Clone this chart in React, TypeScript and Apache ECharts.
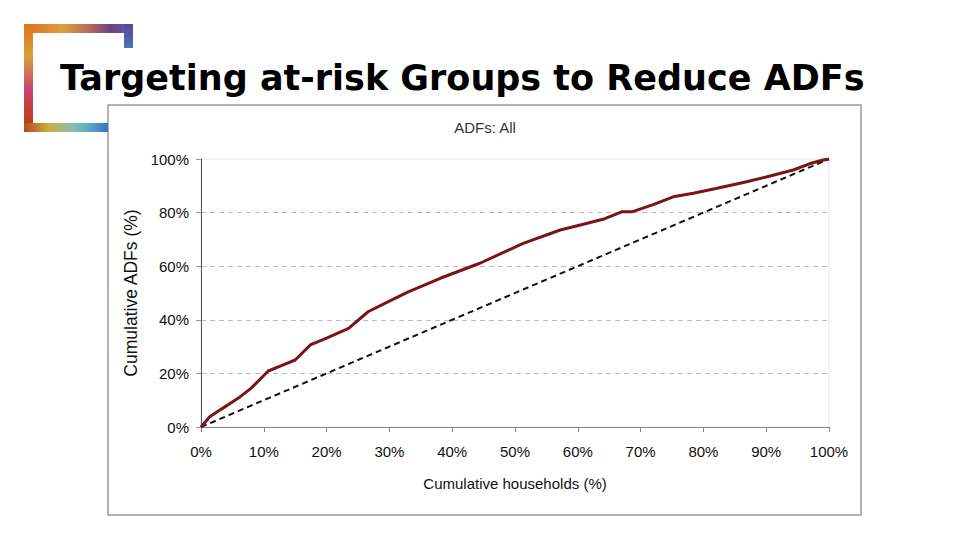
import React, { useEffect, useRef } from "react";
import * as echarts from "echarts";

const titleText = "Targeting at-risk Groups to Reduce ADFs";
const chartTitle = "ADFs: All";
const xName = "Cumulative households (%)";
const yName = "Cumulative ADFs (%)";

const householdsPct = [0, 1.4, 3, 5.9, 8, 10.7, 13, 15, 17.4, 20, 23.5, 26.6, 30.4, 33, 38.1, 44.4, 51.3, 57.2, 60.4, 64, 67, 68.6, 72, 75.2, 78.4, 82, 86.9, 90, 94.3, 97, 99.1, 100];
const adfsPct = [0, 3.8, 6.3, 10.7, 14.5, 20.9, 23.1, 25, 30.6, 33.2, 36.8, 43, 47.4, 50.4, 55.5, 61.1, 68.5, 73.5, 75.4, 77.5, 80.3, 80.3, 83, 85.9, 87.2, 89, 91.5, 93.3, 95.9, 98.3, 99.6, 100];
const equalityX = [0, 100];
const equalityY = [0, 100];

export default function App() {
  const ref = useRef<HTMLDivElement>(null);
  useEffect(() => {
    if (!ref.current) return;
    const chart = echarts.init(ref.current, null, { renderer: "svg" });
    const curve = householdsPct.map((x, i) => [x, adfsPct[i]]);
    const diag = equalityX.map((x, i) => [x, equalityY[i]]);
    const font = "Liberation Sans, Arial, sans-serif";
    chart.setOption({
      animation: false,
      backgroundColor: "#ffffff",
      grid: {
        left: 201,
        right: 131,
        top: 159,
        bottom: 113,
        show: true,
        borderColor: "#e6e6e6",
        borderWidth: 1,
      },
      xAxis: {
        type: "value",
        min: 0,
        max: 100,
        interval: 10,
        name: xName,
        nameLocation: "middle",
        nameGap: 49,
        nameTextStyle: { fontFamily: font, fontSize: 15, color: "#111" },
        axisLine: { show: true, lineStyle: { color: "#888", width: 1 } },
        axisTick: { show: true, length: 5, lineStyle: { color: "#888" } },
        axisLabel: { formatter: "{value}%", fontFamily: font, fontSize: 15, color: "#111", margin: 17 },
        splitLine: { show: false },
      },
      yAxis: {
        type: "value",
        min: 0,
        max: 100,
        interval: 20,
        name: yName,
        nameLocation: "middle",
        nameGap: 56,
        nameTextStyle: { fontFamily: font, fontSize: 17.5, color: "#111" },
        axisLine: { show: true, lineStyle: { color: "#555", width: 1 } },
        axisTick: { show: true, length: 5, lineStyle: { color: "#999" } },
        axisLabel: { formatter: "{value}%", fontFamily: font, fontSize: 15, color: "#111", margin: 12 },
        splitLine: {
          show: true,
          lineStyle: { type: [5, 4], color: ["#bbbbbb", "#bbbbbb", "#bbbbbb", "#bbbbbb", "#bbbbbb", "#eeeeee"], width: 1 },
        },
      },
      series: [
        {
          type: "line",
          data: diag,
          showSymbol: false,
          symbol: "none",
          lineStyle: { color: "#111", width: 2, type: [6, 4] },
          z: 2,
        },
        {
          type: "line",
          data: curve,
          showSymbol: false,
          symbol: "none",
          lineStyle: { color: "#7a1416", width: 3 },
          z: 3,
        },
      ],
      graphic: [
        {
          type: "rect",
          shape: { x: 24, y: 24, width: 109, height: 9 },
          style: {
            fill: new echarts.graphic.LinearGradient(0, 0, 1, 0, [
              { offset: 0, color: "#dc6e1f" },
              { offset: 0.35, color: "#d9a03c" },
              { offset: 0.6, color: "#b76a58" },
              { offset: 0.8, color: "#6a3f80" },
              { offset: 1, color: "#4a6db2" },
            ]),
          },
          z: 1,
        },
        {
          type: "rect",
          shape: { x: 124, y: 24, width: 9, height: 24 },
          style: {
            fill: new echarts.graphic.LinearGradient(0, 0, 0, 1, [
              { offset: 0, color: "#5a4a90" },
              { offset: 1, color: "#4a72b8" },
            ]),
          },
          z: 1,
        },
        {
          type: "rect",
          shape: { x: 24, y: 24, width: 9, height: 108 },
          style: {
            fill: new echarts.graphic.LinearGradient(0, 0, 0, 1, [
              { offset: 0, color: "#de7420" },
              { offset: 0.3, color: "#d9a034" },
              { offset: 0.6, color: "#c8447a" },
              { offset: 0.82, color: "#c83c2a" },
              { offset: 1, color: "#a84422" },
            ]),
          },
          z: 1,
        },
        {
          type: "rect",
          shape: { x: 24, y: 123, width: 84, height: 9 },
          style: {
            fill: new echarts.graphic.LinearGradient(0, 0, 1, 0, [
              { offset: 0, color: "#b44a22" },
              { offset: 0.3, color: "#c8b040" },
              { offset: 0.55, color: "#8cc0a4" },
              { offset: 0.78, color: "#58aac8" },
              { offset: 1, color: "#4070c0" },
            ]),
          },
          z: 1,
        },
        {
          type: "rect",
          shape: { x: 108, y: 105, width: 753, height: 410 },
          style: { fill: "#ffffff", stroke: "#9a9a9a", lineWidth: 1.5 },
          z: -10,
        },
        {
          type: "text",
          x: 60,
          y: 78,
          style: {
            text: titleText,
            font: "bold 35px 'DejaVu Sans', sans-serif",
            fill: "#000",
            align: "left",
            verticalAlign: "middle",
          },
          z: 5,
        },
        {
          type: "text",
          x: 485,
          y: 127,
          style: {
            text: chartTitle,
            fontFamily: font,
            fontSize: 15,
            fill: "#333",
            align: "center",
            verticalAlign: "middle",
          },
          z: 5,
        },
      ],
    });
    return () => chart.dispose();
  }, []);
  return <div ref={ref} style={{ position: "fixed", left: 0, top: 0, width: 960, height: 540 }} />;
}
